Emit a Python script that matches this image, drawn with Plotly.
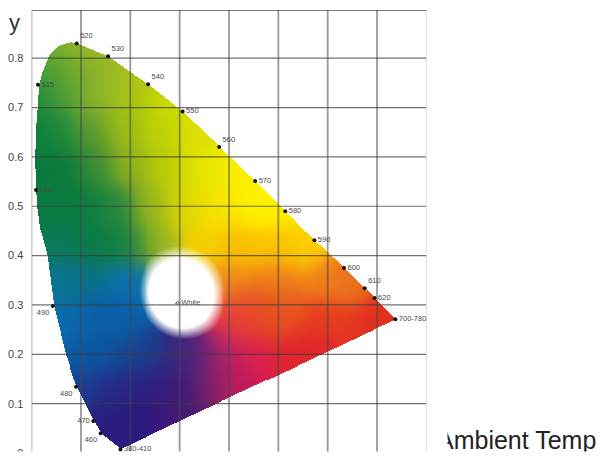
import numpy as np
import plotly.graph_objects as go

# Spectral locus boundary (x, y)
LOCUS_X = [.180,.1416,.125,.091,.068,.0446,.031,.016,.0105,.0075,.0066,.008,.0125,.014,.021,.0345,.0546,.078,.0934,
           .155,.237,.306,.381,.453,.514,.573,.634,.675,.695,.737]
LOCUS_Y = [.008,.039,.067,.134,.201,.298,.401,.457,.500,.545,.60,.654,.715,.746,.772,.806,.826,.833,.83,
           .804,.746,.691,.62,.551,.49,.431,.374,.333,.314,.271]

# Labelled wavelengths
WAVE_LABELS = ["520","530","540","550","560","570","580","590","600","610","620","700-780",
               "515","500","490","480","470","460","380-410"]
WAVE_X = [.0914,.155,.236,.306,.380,.453,.514,.573,.633,.675,.695,.737,.013,.009,.043,.09,.125,.14,.18]
WAVE_Y = [.83,.804,.747,.692,.62,.551,.49,.431,.375,.334,.314,.271,.746,.533,.298,.134,.065,.04,.007]
WAVE_POS = ["top right","top right","top right","middle right","top right","middle right","middle right",
            "middle right","middle right","top right","middle right","middle right","middle right",
            "middle right","bottom left","bottom left","middle left","bottom left","middle right"]

WHITE_X, WHITE_Y = [.296], [.304]

# Colour samples
SAMPLE_X = [.07,.12, .03,.08,.15,.21, .02,.07,.13,.20,.27,
            .015,.06,.12,.19,.26,.33, .015,.07,.13,.20,.27,.34,.41,
            .03,.10,.17,.24,.31,.38,.45,.50,
            .05,.12,.20,.25,.35,.42,.50,.56,
            .05,.10,.20,.40,.50,.60,.65,
            .42,.50,
            .07,.12,.18,.40,.45,.50,.60,.70,
            .10,.15,.22,.30,.33,.38,.45,.52,.58,
            .11,.17,.23,.30,.36,.40,.44,
            .15,.20,.25,.30,.18]
SAMPLE_Y = [.82,.82, .77,.77,.77,.77, .72,.72,.72,.72,.72,
            .65,.65,.65,.65,.65,.65, .58,.58,.58,.58,.58,.58,.58,
            .50,.50,.50,.50,.50,.50,.50,.50,
            .42,.42,.42,.42,.42,.42,.42,.42,
            .35,.35,.35,.35,.35,.35,.35,
            .30,.30,
            .27,.27,.27,.27,.27,.27,.27,.27,
            .20,.20,.20,.20,.20,.20,.20,.20,.20,
            .13,.13,.13,.13,.13,.13,.13,
            .07,.07,.07,.07,.02]
SAMPLE_C = ["#7fb02a","#9cbc22", "#45a035","#6aa630","#92b52a","#b0c61a",
            "#1f8a3c","#55a034","#90b42a","#a8c40f","#c8dc00",
            "#0a7f3c","#1e8a3c","#5c9a30","#9fbd14","#bdd205","#dce000",
            "#0a7a3c","#0a7a3c","#3a8c35","#90b01c","#b8cc08","#e4e400","#f8ee00",
            "#0a7a40","#0a7c40","#228540","#98b41c","#dcd800","#f8e400","#fff000","#fff000",
            "#0a7a58","#0a7c48","#108040","#a0b820","#f5d000","#fac000","#fcc400","#fdd000",
            "#0a7490","#0a7088","#0b70b0","#f09018","#ef8518","#ee8018","#ec6c1e",
            "#ea5c22","#e85a1e",
            "#0a6cb0","#0a5fa8","#0a5ea8","#e0304c","#e8402a","#e84a20","#e63a1e","#e03020",
            "#0a5aa5","#0e4f9a","#1a4090","#2c2a80","#5a2278","#b0206a","#dc1e50","#e0242c","#e0282a",
            "#1c3c90","#26288a","#2c1e80","#3a1a78","#70206c","#b01c60","#d01c55",
            "#2a1c82","#2c1a80","#30187e","#4a1a70","#2c1a80"]
WHITE_CENTRE = (.300, .320)
WHITE_RADII = (.080, .086)

Y_TICKS = [0,.1,.2,.3,.4,.5,.6,.7,.8]
Y_LABELS = ["0","0.1","0.2","0.3","0.4","0.5","0.6","0.7","0.8"]
X_GRID = [0,.1,.2,.3,.4,.5,.6,.7,.8]
X_MAX, Y_MAX = .8, .8977


def gamut_image():
    nx, ny = 400, 446
    xs = (np.arange(nx) + .5) * X_MAX / nx
    ys = (np.arange(ny) + .5) * Y_MAX / ny
    gx, gy = np.meshgrid(xs, ys)
    rgb = np.array([[int(c[i:i+2], 16) for i in (1, 3, 5)] for c in SAMPLE_C], float)
    sx, sy = np.array(SAMPLE_X), np.array(SAMPLE_Y)
    w = np.exp(-((gx[..., None]-sx)**2 + (gy[..., None]-sy)**2) / (2*.03**2)) + 1e-12
    col = (w[..., None]*rgb).sum(2) / w.sum(2, keepdims=True)
    ex, ey = (gx-WHITE_CENTRE[0])/WHITE_RADII[0], (gy-WHITE_CENTRE[1])/WHITE_RADII[1]
    r = np.hypot(ex, ey) * (1 + .17*np.clip(-(ex+ey)/1.41, 0, 1))
    t = np.clip((1.16-r)/.32, 0, 1)[..., None]
    col = col*(1-t) + 255*t
    # inside test against the locus polygon
    px, py = np.array(LOCUS_X), np.array(LOCUS_Y)
    qx, qy = np.roll(px, -1), np.roll(py, -1)
    inside = np.zeros(gx.shape, bool)
    for a, b, c, d in zip(px, py, qx, qy):
        if b == d:
            continue
        hit = ((b > gy) != (d > gy)) & (gx < (c-a)*(gy-b)/(d-b)+a)
        inside ^= hit
    z = np.dstack([np.round(col).astype(int), inside.astype(int)])
    return z.tolist(), X_MAX/nx, Y_MAX/ny


def grid_trace(xs, ys, color, width):
    return go.Scatter(x=xs, y=ys, mode="lines", line=dict(color=color, width=width),
                      hoverinfo="skip", showlegend=False, cliponaxis=False)


z, dx, dy = gamut_image()
fig = go.Figure()
fig.add_trace(go.Image(z=z, colormodel="rgba", x0=dx/2, dx=dx, y0=dy/2, dy=dy, hoverinfo="skip"))

hx, hy = [], []
for t in Y_TICKS:
    hx += [0, X_MAX, None]
    hy += [t, t, None]
vx, vy = [], []
for t in X_GRID[1:-1]:
    vx += [t, t, None]
    vy += [0, Y_MAX, None]
fig.add_trace(grid_trace(vx, vy, "rgba(70,70,70,.55)", 1.8))
fig.add_trace(grid_trace(hx, hy, "rgba(60,60,60,.72)", 1.2))
fig.add_trace(grid_trace([0, 0], [0, Y_MAX], "rgba(90,90,90,.7)", 1.3))
fig.add_trace(grid_trace([X_MAX, X_MAX], [0, Y_MAX], "rgba(130,130,130,.55)", 1))
fig.add_trace(grid_trace([0, X_MAX], [Y_MAX, Y_MAX], "rgba(50,50,50,.85)", 1.3))

fig.add_trace(go.Scatter(x=WAVE_X, y=WAVE_Y, mode="markers+text", text=WAVE_LABELS, textposition=WAVE_POS,
                         marker=dict(color="#111", size=4),
                         textfont=dict(family="Liberation Sans", size=7.5, color="#4a4a4a"),
                         showlegend=False, cliponaxis=False))
fig.add_trace(go.Scatter(x=WHITE_X, y=WHITE_Y, mode="markers+text", text=["White"], textposition="middle right",
                         marker=dict(symbol="triangle-up-open", color="#666", size=4),
                         textfont=dict(family="Liberation Sans", size=7.5, color="#555"),
                         showlegend=False))

fig.update_xaxes(range=[0, X_MAX], showgrid=False, zeroline=False, showticklabels=False, ticks="", automargin=False)
fig.update_yaxes(range=[0, Y_MAX], autorange=False, showgrid=False, zeroline=False, tickvals=Y_TICKS, ticktext=Y_LABELS,
                 ticks="outside", ticklen=5, tickcolor="rgba(0,0,0,0)", ticklabeloverflow="allow", automargin=False,
                 tickfont=dict(family="Liberation Sans", size=11, color="#444"))

annotations = [
    dict(text="y", xref="paper", yref="paper", x=-16/399, y=1.0, yanchor="top", xanchor="center", showarrow=False,
         font=dict(family="Liberation Sans", size=22, color="#333"), yshift=2),
    dict(text="Ambient Temp", xref="paper", yref="paper", x=(437-29.5)/399, y=0, xanchor="left", yanchor="bottom",
         showarrow=False, font=dict(family="Liberation Sans", size=25, color="#222"), yshift=-2, borderpad=0),
    # the reference photo is cropped: hide what falls outside of it
    dict(text=" ", xref="paper", yref="paper", x=(429-29.5)/399, y=0, xanchor="left", yanchor="bottom",
         showarrow=False, width=18, height=34, bgcolor="white", borderpad=0),
    dict(text=" ", xref="paper", yref="paper", x=-29.5/399, y=0, xanchor="left", yanchor="top",
         showarrow=False, width=600, height=6, bgcolor="white", borderpad=0, yshift=2),
]
fig.update_layout(width=600, height=457, margin=dict(l=29.5, r=171.5, t=9.5, b=4), paper_bgcolor="white",
                  plot_bgcolor="white", showlegend=False, annotations=annotations)
fig.write_html("out.html", config={"displayModeBar": False}, post_script="document.body.style.margin='0';")
